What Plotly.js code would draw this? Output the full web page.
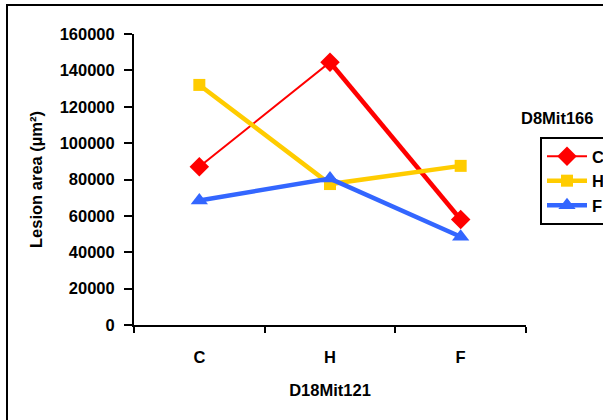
<!DOCTYPE html>
<html>
<head>
<meta charset="utf-8">
<script src="https://cdn.plot.ly/plotly-3.0.1.min.js"></script>
<style>
html,body{margin:0;padding:0;background:#fff;}
#chart{width:603px;height:420px;}
</style>
</head>
<body>
<div id="chart"></div>
<script>
// Data
const categories = ["C", "H", "F"];          // D18Mit121 genotype
const seriesNames = ["C", "H", "F"];         // D8Mit166 genotype
const valuesC = [87000, 144500, 58000];
const valuesH = [132000, 77500, 87500];
const valuesF = [68500, 80500, 48500];
const yTicks = [0, 20000, 40000, 60000, 80000, 100000, 120000, 140000, 160000];

const FONT = "Liberation Sans, Arial, sans-serif";
const FS = 16.5;
const RED = "#ff0000", YEL = "#ffcc00", BLU = "#3366ff";

const traces = [
  // red C: thin line through all points (legend), thick segment H->F on top
  {x: categories, y: valuesC, name: seriesNames[0], mode: "lines+markers", type: "scatter",
   legendgroup: "c", line: {color: RED, width: 2},
   marker: {symbol: "diamond", size: 15, color: RED}},
  {x: categories.slice(1, 3), y: valuesC.slice(1, 3), mode: "lines", type: "scatter",
   line: {color: RED, width: 4.5}, showlegend: false, hoverinfo: "skip"},
  {x: categories, y: valuesH, name: seriesNames[1], mode: "lines+markers", type: "scatter",
   legendgroup: "h", line: {color: YEL, width: 4.5},
   marker: {symbol: "square", size: 12, color: YEL}},
  {x: categories, y: valuesF, name: seriesNames[2], mode: "lines+markers", type: "scatter",
   legendgroup: "f", line: {color: BLU, width: 4.5},
   marker: {symbol: "triangle-up", size: 15, color: BLU}}
];

const W = 603, H = 420, L = 134, R = 77, T = 34, B = 95;
const pw = W - L - R, ph = H - T - B;
const px = v => (v - L) / pw;
const py = v => (H - B - v) / ph;

const layout = {
  width: W, height: H,
  margin: {l: L, r: R, t: T, b: B, autoexpand: false},
  paper_bgcolor: "#ffffff", plot_bgcolor: "#ffffff",
  font: {family: FONT, size: FS, color: "#000"},
  showlegend: true,
  xaxis: {
    type: "category", categoryorder: "array", categoryarray: categories,
    range: [-0.5, 2.5], showgrid: false, zeroline: false,
    showline: true, linecolor: "#000", linewidth: 2,
    ticks: "outside", tickson: "boundaries", ticklen: 6, tickwidth: 2, tickcolor: "#000",
    tickfont: {family: FONT, size: FS, color: "#000", weight: "bold"},
    ticklabelstandoff: 16,
    title: {text: "<b>D18Mit121</b>", font: {family: FONT, size: FS, color: "#000"}, standoff: 20}
  },
  yaxis: {
    range: [0, 160000], tickvals: yTicks, tickformat: "d",
    showgrid: false, zeroline: false,
    showline: true, linecolor: "#000", linewidth: 2,
    ticks: "outside", ticklen: 8, tickwidth: 2, tickcolor: "#000",
    tickfont: {family: FONT, size: FS, color: "#000", weight: "bold"},
    ticklabelstandoff: 6,
    title: {text: "<b>Lesion area (µm²)</b>", font: {family: FONT, size: FS, color: "#000"}, standoff: 13}
  },
  legend: {
    x: px(540), y: py(137), xanchor: "left", yanchor: "top",
    bordercolor: "#000", borderwidth: 2, bgcolor: "#fff",
    font: {family: FONT, size: FS, color: "#000", weight: "bold"},
    tracegroupgap: 0, itemwidth: 40
  },
  annotations: [{
    text: "<b>D8Mit166</b>", xref: "paper", yref: "paper",
    x: px(557), y: py(118), xanchor: "center", yanchor: "middle",
    showarrow: false, font: {family: FONT, size: FS, color: "#000"}
  }],
  shapes: [{
    type: "rect", xref: "paper", yref: "paper", layer: "below",
    x0: px(7), x1: px(700), y0: py(500), y1: py(5),
    line: {color: "#000", width: 2}, fillcolor: "rgba(0,0,0,0)"
  }]
};

Plotly.newPlot("chart", traces, layout, {displayModeBar: false, staticPlot: true});
</script>
</body>
</html>
